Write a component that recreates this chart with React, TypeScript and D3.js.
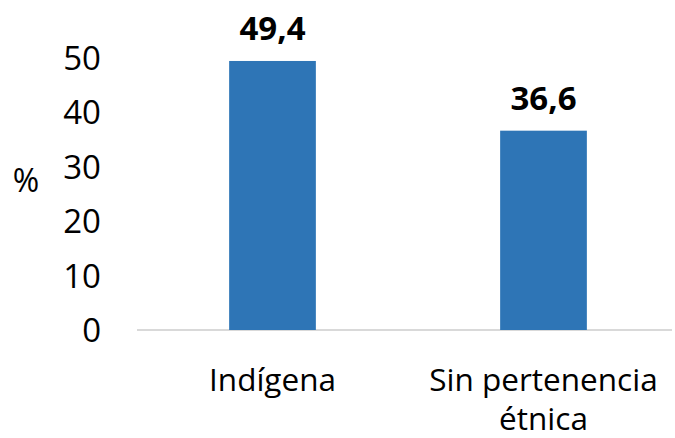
import React from "react";
import * as d3 from "d3";

const categories = ["Indígena", "Sin pertenencia étnica"];
const categoryLines = [["Indígena"], ["Sin pertenencia", "étnica"]];
const values = [49.4, 36.6];
const valueLabels = ["49,4", "36,6"];
const yTicks = [0, 10, 20, 30, 40, 50];

const W = 675;
const H = 438;
const font = "'Open Sans', 'Noto Sans', sans-serif";

const App = () => {
  const x = d3.scaleBand<string>().domain(categories).range([137, 679]).paddingInner(0.68).paddingOuter(0.34);
  const y = d3.scaleLinear().domain([0, 50]).range([330, 57.7]);

  return (
    <svg width={W} height={H} style={{ position: "absolute", left: 0, top: 0, background: "#fff" }}>
      <line x1={137} x2={672} y1={y(0)} y2={y(0)} stroke="#d9d9d9" strokeWidth={2} />
      {yTicks.map((t) => (
        <text key={t} x={101} y={y(t) + 12} textAnchor="end" fontFamily={font} fontSize={33} fill="#000">
          {t}
        </text>
      ))}
      <text x={26} y={192} textAnchor="middle" fontFamily={font} fontSize={32} fill="#000">%</text>
      {categories.map((c, i) => {
        const bx = x(c) ?? 0;
        const cx = bx + x.bandwidth() / 2;
        return (
          <g key={c}>
            <rect x={bx} y={y(values[i])} width={x.bandwidth()} height={y(0) - y(values[i])} fill="#2e75b6" />
            <text x={cx} y={y(values[i]) - 21} textAnchor="middle" fontFamily={font} fontSize={33} fontWeight="bold" fill="#000">
              {valueLabels[i]}
            </text>
            {categoryLines[i].map((ln, j) => (
              <text key={j} x={cx} y={391 + j * 39} textAnchor="middle" fontFamily={font} fontSize={31.5} fill="#000">
                {ln}
              </text>
            ))}
          </g>
        );
      })}
    </svg>
  );
};

export default App;
